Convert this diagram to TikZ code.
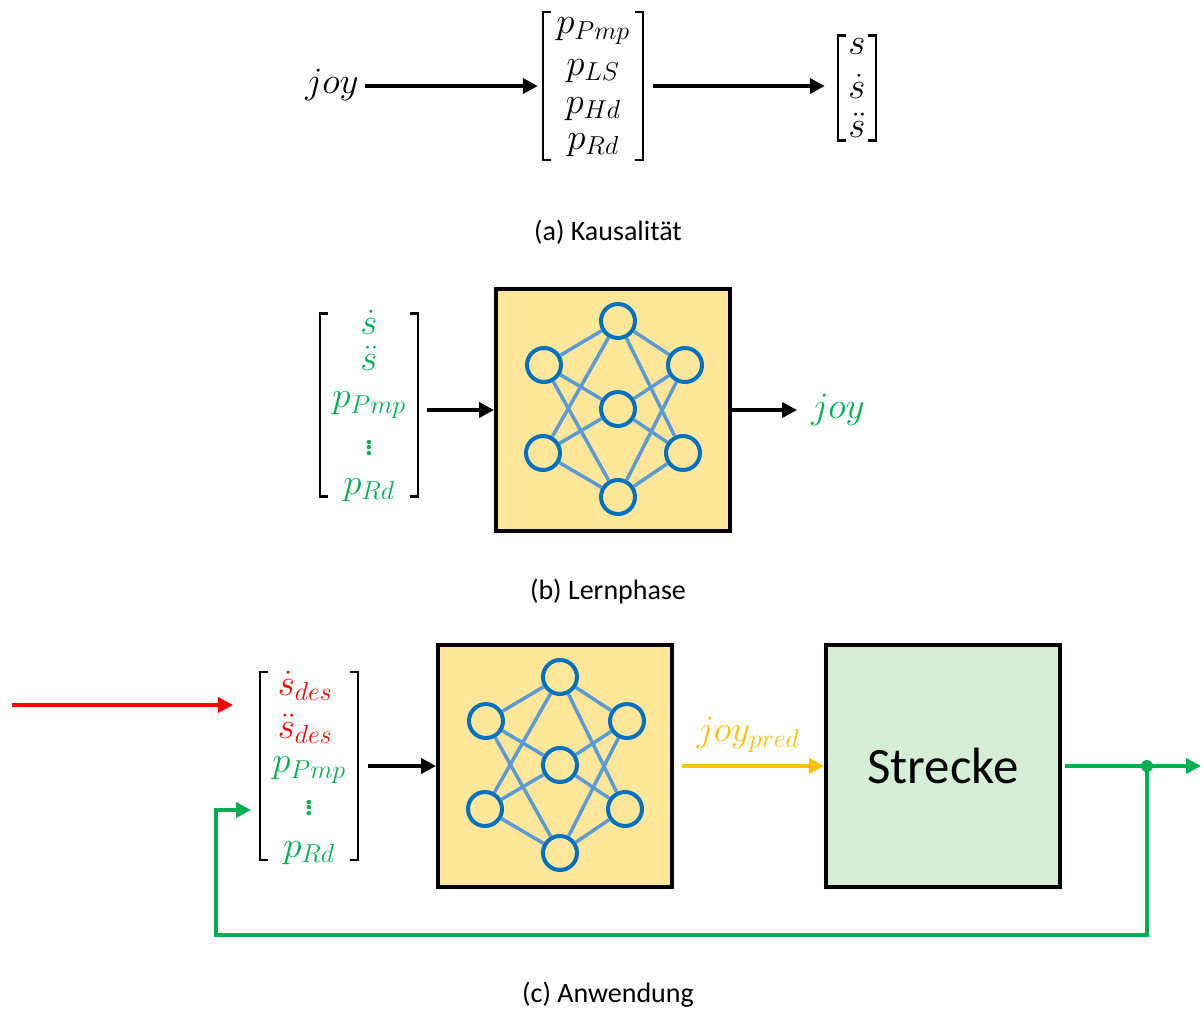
\RequirePackage{fix-cm}
\documentclass[tikz,border=0pt]{standalone}
\usepackage{fontspec}
\setmainfont{Carlito}
\usetikzlibrary{arrows.meta,positioning,calc}

\definecolor{kgreen}{HTML}{00B050}
\definecolor{kred}{HTML}{FF0000}
\definecolor{kyellow}{HTML}{FFC000}
\definecolor{netfill}{HTML}{FFE699}
\definecolor{netblue}{HTML}{0070C0}
\definecolor{linkblue}{HTML}{5B9BD5}
\definecolor{plantfill}{HTML}{D5EFD7}

\newcommand{\mfont}{\fontsize{37}{40}\selectfont}
% square brackets round a vector node
\newcommand{\vbrackets}[1]{%
  \draw[brack] ([xshift=8pt]#1.north west) -- (#1.north west) -- (#1.south west) -- ([xshift=8pt]#1.south west);
  \draw[brack] ([xshift=-8pt]#1.north east) -- (#1.north east) -- (#1.south east) -- ([xshift=-8pt]#1.south east);}

% small feed-forward net: 2 - 3 - 2 neurons
\tikzset{
  nnet/.pic={
    \foreach \n/\px/\py in {l1/-69/-45, l2/-70/43, m1/5/-89, m2/5/-1, m3/5/87, r1/72/-45, r2/70/43}
      \node[neuron] (-\n) at (\px,\py) {};
    \foreach \a in {l1,l2}
      \foreach \b in {m1,m2,m3}
        \draw[link] (-\a) -- (-\b);
    \foreach \a in {m1,m2,m3}
      \foreach \b in {r1,r2}
        \draw[link] (-\a) -- (-\b);
  }
}

\begin{document}
\begin{tikzpicture}[
  x=1pt,
  y=-1pt,
  >={Triangle[length=15pt,width=15pt]},
  every node/.style={inner sep=0pt},
  entry/.style={font=\mfont},
  caption/.style={font=\fontsize{28}{32}\selectfont},
  netbox/.style={
    draw,
    line width=4pt,
    fill=netfill,
    minimum width=234pt,
    minimum height=242pt
  },
  plant/.style={
    draw,
    line width=4pt,
    fill=plantfill,
    minimum width=234pt,
    minimum height=242pt,
    font=\fontsize{51}{56}\selectfont
  },
  neuron/.style={circle, draw=netblue, line width=4pt, minimum size=34pt},
  link/.style={draw=linkblue, line width=3.5pt},
  brack/.style={line width=2.5pt},
  arrow/.style={->, line width=4pt},
  refline/.style={->, line width=4.5pt, kred},
  predline/.style={->, line width=4pt, kyellow},
  fbline/.style={->, line width=4pt, kgreen}
]
\useasboundingbox (0,0) rectangle (1203,1010);

% (a) causality
\node[entry] (joya) at (332,85) {$joy$};
\node[minimum width=100pt, minimum height=148pt] (avec) at (593,86) {};
\node[entry] (a1) at (593,31) {$p_{Pmp}$};
\node[entry] (a2) at (593,71) {$p_{LS}$};
\node[entry] (a3) at (593,109) {$p_{Hd}$};
\node[entry] (a4) at (593,145) {$p_{Rd}$};
\vbrackets{avec}
\node[minimum width=38pt, minimum height=105pt] (svec) at (857,88) {};
\node[entry] (s0) at (857,47) {$s$};
\node[entry] (s1) at (857,86) {$\dot{s}$};
\node[entry] (s2) at (857,125) {$\ddot{s}$};
\vbrackets{svec}
\draw[arrow, shorten <=6pt, shorten >=5pt] (avec.west -| joya.east) -- (avec.west);
\draw[arrow, shorten <=10pt, shorten >=13pt] (avec.east) -- (svec.west |- avec.east);
\node[caption] (capa) at (608,232) {(a) Kausalität};

% (b) learning phase
\node[minimum width=98pt, minimum height=183pt] (bvec) at (369,405) {};
\begin{scope}[every node/.append style={entry, text=kgreen}]
  \node (b1) at (369,322) {$\dot{s}$};
  \node (b2) at (369,358) {$\ddot{s}$};
  \node (b3) at (369,405) {$p_{Pmp}$};
  \node (b4) at (369,445) {$\vdots$};
  \node (b5) at (369,490) {$p_{Rd}$};
  \node (joyb) at (838,410) {$joy$};
\end{scope}
\vbrackets{bvec}
\node[netbox] (bnet) at (613,410) {};
\pic (bn) at (613,410) {nnet};
\draw[arrow, shorten <=9pt] (bnet.west -| bvec.east) -- (bnet.west);
\draw[arrow, shorten >=14pt] (bnet.east) -- (joyb.west);
\node[caption] (capb) at (608,592) {(b) Lernphase};

% (c) application
\node[minimum width=98pt, minimum height=188pt] (cvec) at (309,766) {};
\node[entry, text=kred] (c1) at (305,686) {$\dot{s}_{des}$};
\node[entry, text=kred] (c2) at (305,729) {$\ddot{s}_{des}$};
\node[entry, text=kgreen] (c3) at (309,770) {$p_{Pmp}$};
\node[entry, text=kgreen] (c4) at (309,805) {$\vdots$};
\node[entry, text=kgreen] (c5) at (309,853) {$p_{Rd}$};
\vbrackets{cvec}
\node[netbox] (cnet) at (555,766) {};
\pic (cn) at (555,766) {nnet};
\node[plant] (strecke) at (943,766) {Strecke};
\node[entry, text=kyellow] (joyp) at (748,735) {$joy_{pred}$};
\node[circle, fill=kgreen, minimum size=12pt] (tap) at (1147,766) {};
\coordinate (setpt) at (12,705);
\coordinate (refin) at (233,705);
\coordinate (fbin) at (251,810);
\coordinate (out) at (1201,766);

\draw[refline] (setpt) -- (refin);
\draw[arrow, shorten <=10pt] (cvec.east) -- (cnet.west);
\draw[predline, shorten <=8pt] (cnet.east) -- (strecke.west);
\draw[fbline, shorten <=3pt] (strecke.east) -- (out);
\draw[fbline] (tap.center) -- (tap |- 0,935) -| ([xshift=-35pt]fbin) -- (fbin);
\node[caption] (capc) at (608,995) {(c) Anwendung};

\end{tikzpicture}
\end{document}
